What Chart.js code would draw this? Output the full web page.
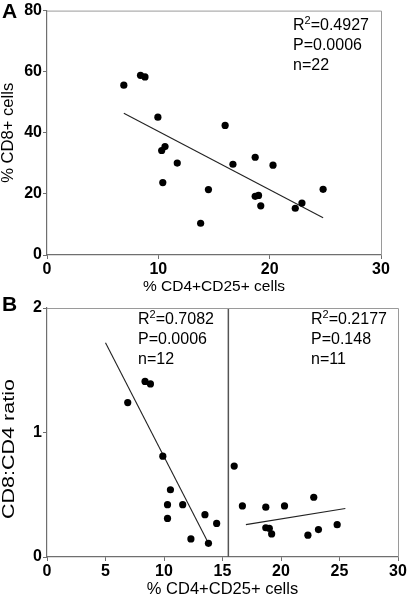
<!DOCTYPE html>
<html>
<head>
<meta charset="utf-8">
<script src="https://cdn.jsdelivr.net/npm/chart.js@4.4.1/dist/chart.umd.min.js"></script>
<style>
  html, body { margin: 0; padding: 0; background: #fff; }
  #wrap { position: relative; width: 409px; height: 600px; overflow: hidden; }
  .pane { position: absolute; left: 0; width: 409px; }
  #pa { top: 0; height: 300px; }
  #pb { top: 290px; height: 310px; }
</style>
</head>
<body>
<div id="wrap">
  <div class="pane" id="pa"><canvas id="ca" width="409" height="300"></canvas></div>
  <div class="pane" id="pb"><canvas id="cb" width="409" height="310"></canvas></div>
</div>
<script>
// ---------- Panel A data ----------
const aX = [6.9, 8.4, 8.8, 9.96, 10.3, 10.6, 10.4, 11.7, 14.5, 13.8, 16.0, 16.7, 18.7, 18.7, 19.0, 19.2, 20.3, 22.3, 22.9, 24.8];
const aY = [55.6, 58.8, 58.3, 45.1, 34.2, 35.5, 23.7, 30.1, 21.4, 10.4, 42.4, 29.7, 32.0, 19.2, 19.5, 16.1, 29.4, 15.3, 17.0, 21.5];
const aFitX = [6.9, 24.8];
const aFitY = [46.4, 12.2];
const aXTicks = [0, 10, 20, 30];
const aYTicks = [0, 20, 40, 60, 80];
const aStats = ["0.4927", "P=0.0006", "n=22"];

// ---------- Panel B data ----------
const bLeftX = [6.9, 8.38, 8.84, 9.9, 10.55, 10.3, 10.3, 11.6, 12.3, 13.5, 13.8, 14.5];
const bLeftY = [1.24, 1.41, 1.39, 0.81, 0.54, 0.42, 0.31, 0.42, 0.145, 0.34, 0.11, 0.27];
const bRightX = [16.0, 16.7, 18.7, 18.7, 19.0, 19.2, 20.3, 22.8, 22.3, 23.2, 24.8];
const bRightY = [0.73, 0.41, 0.40, 0.235, 0.23, 0.185, 0.41, 0.48, 0.175, 0.22, 0.26];
const bLeftFitX = [5.0, 13.8];
const bLeftFitY = [1.72, 0.11];
const bRightFitX = [17.0, 25.5];
const bRightFitY = [0.26, 0.39];
const bSplitX = [15.5, 15.5];
const bSplitY = [0, 2];
const bXTicks = [0, 5, 10, 15, 20, 25, 30];
const bYTicks = [0, 1, 2];
const bLeftStats = ["0.7082", "P=0.0006", "n=12"];
const bRightStats = ["0.2177", "P=0.148", "n=11"];

const FONT = "'Liberation Sans', Arial, Helvetica, sans-serif";
const AXIS_GRAY = '#6f6f6f';
const FRAME_GRAY = '#9a9a9a';

function pts(xs, ys) { return xs.map((x, i) => ({ x: x, y: ys[i] })); }

function drawStats(ctx, x, y, lines) {
  ctx.save();
  ctx.fillStyle = '#000';
  ctx.textBaseline = 'middle';
  ctx.textAlign = 'left';
  ctx.font = '16px ' + FONT;
  ctx.fillText('R', x, y);
  let w = ctx.measureText('R').width;
  ctx.font = '11px ' + FONT;
  ctx.fillText('2', x + w, y - 5);
  w += ctx.measureText('2').width;
  ctx.font = '16px ' + FONT;
  ctx.fillText('=' + lines[0], x + w, y);
  ctx.fillText(lines[1], x, y + 20);
  ctx.fillText(lines[2], x, y + 40);
  ctx.restore();
}

// rotated y-axis title, stretched along its length to the reference's span
function drawYTitle(ctx, text, cx, cy, size, length) {
  ctx.save();
  ctx.fillStyle = '#000';
  ctx.font = size + 'px ' + FONT;
  ctx.textAlign = 'center';
  ctx.textBaseline = 'middle';
  const natural = ctx.measureText(text).width;
  ctx.translate(cx, cy);
  ctx.rotate(-Math.PI / 2);
  ctx.scale(length / natural, 1);
  ctx.fillText(text, 0, 0);
  ctx.restore();
}

function framePlugin(letter, letterY, extraFn) {
  return {
    id: 'frame' + letter,
    afterDraw(chart) {
      const ctx = chart.ctx;
      const a = chart.chartArea;
      ctx.save();
      ctx.strokeStyle = FRAME_GRAY;
      ctx.lineWidth = 1;
      ctx.beginPath();
      ctx.moveTo(a.left, a.top + 0.5);
      ctx.lineTo(a.right + 0.5, a.top + 0.5);
      ctx.lineTo(a.right + 0.5, a.bottom);
      ctx.stroke();
      ctx.fillStyle = '#000';
      ctx.font = 'bold 21px ' + FONT;
      ctx.textBaseline = 'middle';
      ctx.textAlign = 'left';
      ctx.fillText(letter, 2, letterY);
      ctx.restore();
      extraFn(chart);
    }
  };
}

function xAxisCfg(ticksArr, title, height, titleSize, titlePad) {
  return {
    type: 'linear', min: ticksArr[0], max: ticksArr[ticksArr.length - 1],
    afterBuildTicks: (s) => { s.ticks = ticksArr.map(v => ({ value: v })); },
    afterFit: (s) => { s.height = height; },
    grid: { display: true, drawOnChartArea: false, drawTicks: true, tickLength: 4, color: AXIS_GRAY, lineWidth: 1 },
    border: { display: true, color: AXIS_GRAY, width: 1.2 },
    ticks: { color: '#000', padding: 1, maxRotation: 0, font: { family: FONT, size: 16, weight: 'bold' } },
    title: { display: true, text: title, color: '#000', padding: { top: 0, bottom: titlePad }, font: { family: FONT, size: titleSize } }
  };
}

function yAxisCfg(ticksArr) {
  return {
    type: 'linear', min: ticksArr[0], max: ticksArr[ticksArr.length - 1],
    afterBuildTicks: (s) => { s.ticks = ticksArr.map(v => ({ value: v })); },
    afterFit: (s) => { s.width = 47; },
    grid: { display: true, drawOnChartArea: false, drawTicks: true, tickLength: 4, color: AXIS_GRAY, lineWidth: 1 },
    border: { display: true, color: AXIS_GRAY, width: 1.2 },
    ticks: { color: '#000', padding: 1, font: { family: FONT, size: 16, weight: 'bold' } },
    title: { display: false }
  };
}

const scatterStyle = { type: 'scatter', pointRadius: 3.6, pointHoverRadius: 3.6, backgroundColor: '#000', borderWidth: 0 };
const fitStyle = { type: 'line', pointRadius: 0, borderColor: '#222', borderWidth: 1.1, fill: false, tension: 0 };

// ---------- Chart A ----------
new Chart(document.getElementById('ca'), {
  data: {
    datasets: [
      Object.assign({ data: pts(aX, aY) }, scatterStyle),
      Object.assign({ data: pts(aFitX, aFitY) }, fitStyle)
    ]
  },
  options: {
    responsive: false, animation: false, events: [],
    layout: { padding: { left: 0, right: 28, top: 8, bottom: 0 } },
    plugins: { legend: { display: false }, tooltip: { enabled: false } },
    scales: {
      x: xAxisCfg(aXTicks, '% CD4+CD25+ cells', 45, 15.5, 4),
      y: yAxisCfg(aYTicks)
    }
  },
  plugins: [framePlugin('A', 12, (chart) => {
    const a = chart.chartArea;
    drawStats(chart.ctx, a.right - 88, a.top + 15, aStats);
    drawYTitle(chart.ctx, '% CD8+ cells', 9, (a.top + a.bottom) / 2, 16, 100);
  })]
});

// ---------- Chart B ----------
new Chart(document.getElementById('cb'), {
  data: {
    datasets: [
      Object.assign({ data: pts(bLeftX, bLeftY) }, scatterStyle),
      Object.assign({ data: pts(bRightX, bRightY) }, scatterStyle),
      Object.assign({ data: pts(bLeftFitX, bLeftFitY) }, fitStyle),
      Object.assign({ data: pts(bRightFitX, bRightFitY) }, fitStyle),
      Object.assign({}, fitStyle, { data: pts(bSplitX, bSplitY), borderColor: '#555', borderWidth: 1.5 })
    ]
  },
  options: {
    responsive: false, animation: false, events: [],
    layout: { padding: { left: 0, right: 11, top: 18, bottom: 0 } },
    plugins: { legend: { display: false }, tooltip: { enabled: false } },
    scales: {
      x: xAxisCfg(bXTicks, '% CD4+CD25+ cells', 43, 16.5, 1),
      y: yAxisCfg(bYTicks)
    }
  },
  plugins: [framePlugin('B', 15, (chart) => {
    const a = chart.chartArea;
    drawStats(chart.ctx, a.left + 91, a.top + 12, bLeftStats);
    drawStats(chart.ctx, a.left + 264, a.top + 12, bRightStats);
    drawYTitle(chart.ctx, 'CD8:CD4 ratio', 10, 159, 16, 140);
  })]
});
</script>
</body>
</html>
